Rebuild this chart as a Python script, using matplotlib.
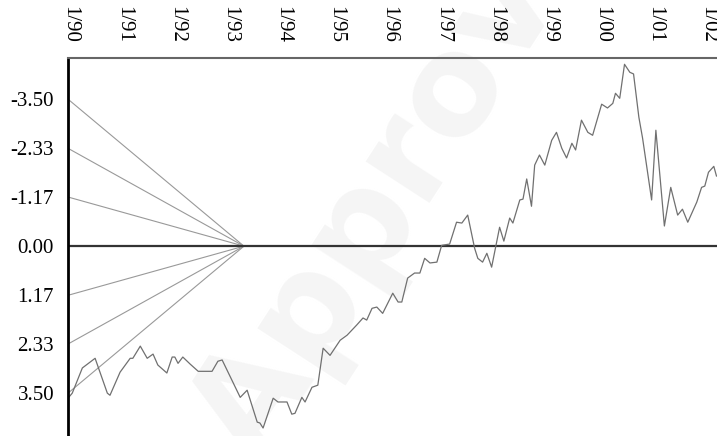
import matplotlib.pyplot as plt
import numpy as np

# series (decimal year, value; axis is inverted)
t = [1989.96, 1990.04, 1990.23, 1990.47, 1990.70, 1990.75, 1990.94, 1991.13, 1991.18, 1991.32,
     1991.45, 1991.56, 1991.65, 1991.82, 1991.92, 1991.97, 1992.03, 1992.12, 1992.26, 1992.41,
     1992.67, 1992.78, 1992.86, 1993.20, 1993.33, 1993.52, 1993.57, 1993.63, 1993.82, 1993.91,
     1994.08, 1994.17, 1994.23, 1994.36, 1994.42, 1994.55, 1994.66, 1994.76, 1994.89, 1995.08,
     1995.21, 1995.39, 1995.51, 1995.58, 1995.68, 1995.77, 1995.88, 1996.07, 1996.17, 1996.24,
     1996.35, 1996.48, 1996.58, 1996.67, 1996.77, 1996.90, 1996.99, 1997.14, 1997.27, 1997.37,
     1997.48, 1997.61, 1997.67, 1997.76, 1997.84, 1997.93, 1998.08, 1998.16, 1998.27, 1998.33,
     1998.46, 1998.52, 1998.59, 1998.68, 1998.74, 1998.83, 1998.93, 1999.06, 1999.15, 1999.25,
     1999.34, 1999.44, 1999.51, 1999.62, 1999.74, 1999.83, 2000.00, 2000.11, 2000.21, 2000.26,
     2000.34, 2000.43, 2000.53, 2000.60, 2000.70, 2000.77, 2000.94, 2001.02, 2001.18, 2001.30,
     2001.43, 2001.52, 2001.62, 2001.79, 2001.88, 2001.94, 2002.01, 2002.11, 2002.16]
vals = [3.62, 3.50, 2.90, 2.67, 3.50, 3.55, 3.00, 2.67, 2.67, 2.38,
        2.67, 2.57, 2.83, 3.02, 2.64, 2.64, 2.79, 2.64, 2.81, 2.98,
        2.98, 2.74, 2.71, 3.60, 3.43, 4.19, 4.21, 4.33, 3.62, 3.71,
        3.71, 4.00, 3.98, 3.60, 3.71, 3.36, 3.31, 2.43, 2.60, 2.24,
        2.12, 1.88, 1.71, 1.76, 1.48, 1.45, 1.60, 1.12, 1.33, 1.33,
        0.76, 0.64, 0.64, 0.29, 0.40, 0.38, -0.02, -0.05, -0.57, -0.55,
        -0.74, 0.05, 0.29, 0.38, 0.17, 0.50, -0.45, -0.12, -0.67, -0.55,
        -1.10, -1.12, -1.60, -0.95, -1.93, -2.17, -1.93, -2.52, -2.71, -2.33,
        -2.10, -2.45, -2.29, -3.00, -2.71, -2.64, -3.38, -3.29, -3.40, -3.64,
        -3.52, -4.33, -4.14, -4.10, -3.07, -2.57, -1.10, -2.76, -0.48, -1.40,
        -0.74, -0.88, -0.57, -1.05, -1.40, -1.43, -1.76, -1.90, -1.67]

# fan lines converging to zero
fan_start = 1989.96
fan_end = 1993.27
fan_levels = [-3.50, -2.33, -1.17, 1.17, 2.33, 3.50]

years = list(range(1990, 2003))
year_labels = ["1/%02d" % (y % 100) for y in years]
ytick_vals = [-3.50, -2.33, -1.17, 0.00, 1.17, 2.33, 3.50]
ytick_labels = ["-3.50", "-2.33", "-1.17", "0.00", "1.17", "2.33", "3.50"]

plt.rcParams['font.family'] = ['Liberation Serif', 'DejaVu Serif']

fig = plt.figure(figsize=(7.17, 4.36), dpi=100)
ax = fig.add_axes([68/717, 0, 1 - 68/717, (436 - 58)/436])

# watermark, behind everything else
ax.text(0.60, 0.70, "Approved", fontsize=100, fontweight='bold', family='DejaVu Sans',
        color='#f5f5f5', rotation=57, ha='center', va='center', zorder=0,
        transform=fig.transFigure, clip_on=False)

for lv in fan_levels:
    ax.plot([fan_start, fan_end], [lv, 0], color='#999999', lw=0.8)

ax.axhline(0, color='#333333', lw=1.6)
ax.plot(t, vals, color='#707070', lw=0.9)

ax.set_xlim(1989.96, 2002.17)
ax.set_ylim(4.52, -4.48)
ax.patch.set_alpha(0)

ax.xaxis.tick_top()
ax.set_xticks(years)
ax.set_xticklabels(year_labels, rotation=-90, fontsize=15)
ax.set_yticks(ytick_vals)
ax.set_yticklabels(ytick_labels, fontsize=15)
ax.tick_params(axis='x', length=0, pad=11)
ax.tick_params(axis='y', length=0, pad=10)

ax.spines['right'].set_visible(False)
ax.spines['bottom'].set_visible(False)
ax.spines['left'].set_color('black')
ax.spines['left'].set_linewidth(2)
ax.spines['top'].set_color('#666666')
ax.spines['top'].set_linewidth(1.5)

fig.savefig("out.png", dpi=100)
